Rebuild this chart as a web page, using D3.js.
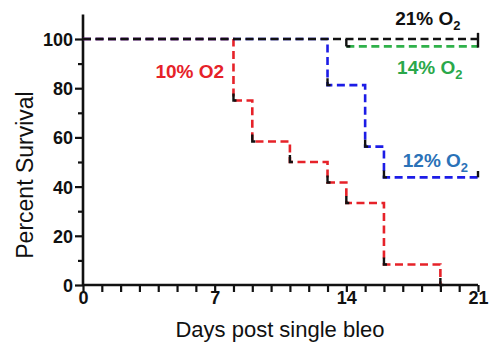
<!DOCTYPE html>
<html><head><meta charset="utf-8">
<script src="https://cdn.jsdelivr.net/npm/d3@7"></script>
<style>html,body{margin:0;padding:0;background:#fff;}svg{display:block;}</style>
</head><body><svg id="c" width="492" height="350"></svg>
<script>
// Data
const days21 = [0, 21];           const surv21 = [100, 100];
const days14 = [14, 21];          const surv14 = [97, 97];
const days12 = [0, 13, 15, 16, 21]; const surv12 = [100, 81.25, 56.25, 43.75, 43.75];
const days10 = [0, 8, 9, 11, 13, 14, 16, 19]; const surv10 = [100, 75, 58.33, 50, 41.67, 33.33, 8.33, 0];
const xTickLabels = [0, 7, 14, 21];
const yTickLabels = [0, 20, 40, 60, 80, 100];
const labelNames = ["10% O", "21% O", "14% O", "12% O"];
const labelSubs = ["2", "2", "2", "2"];
const labelDays = [7.5, 16.6, 16.7, 17.0];
const labelVals = [84, 105.7, 85.8, 48.1];

const colors = {c10: "#e62229", c12: "#1c1ce6", c14: "#2fb14a", c21: "#111"};
const labelColors = ["#e62229", "#111", "#2aa84a", "#2a72b8"];
const labelAnchors = ["end", "start", "start", "start"];
const labelSubMode = [false, true, true, true];

const svg = d3.select("#c");
const x = d3.scaleLinear().domain([0, 21]).range([83, 478]);
const y = d3.scaleLinear().domain([0, 110]).range([285, 14.4]);

const font = "'Liberation Sans', Arial, sans-serif";

// axes
const xAxis = d3.axisBottom(x).tickValues(d3.range(0, 22)).tickSize(7)
  .tickFormat(d => xTickLabels.includes(d) ? d : "");
const gx = svg.append("g").attr("transform", "translate(0,285)").call(xAxis);
gx.select(".domain").attr("stroke", "#111").attr("stroke-width", 2.6).attr("d", `M${x(0)},0H${x(21)}`);
gx.selectAll(".tick line").attr("stroke", "#111").attr("stroke-width", 2.2);
gx.selectAll(".tick text").attr("font-family", font).attr("font-weight", "bold").attr("font-size", 18)
  .attr("fill", "#111").attr("dy", "0.62em").attr("y", 8);

const yAxis = d3.axisLeft(y).tickValues(d3.range(0, 101, 10)).tickSize(8)
  .tickFormat(d => yTickLabels.includes(d) ? d : "");
const gy = svg.append("g").attr("transform", "translate(83,0)").call(yAxis);
gy.select(".domain").attr("stroke", "#111").attr("stroke-width", 2.6).attr("d", `M0,${y(0)}V${y(110)}`);
gy.selectAll(".tick line").attr("stroke", "#111").attr("stroke-width", 2.2)
  .attr("x2", d => yTickLabels.includes(d) ? -8 : -5);
gy.selectAll(".tick text").attr("font-family", font).attr("font-weight", "bold").attr("font-size", 18)
  .attr("fill", "#111").attr("x", -10).attr("dy", "0.36em");

// axis titles
svg.append("text").attr("x", 280).attr("y", 337).attr("text-anchor", "middle")
  .attr("font-family", font).attr("font-size", 22).attr("fill", "#111").text("Days post single bleo");
svg.append("text").attr("transform", "translate(33,175) rotate(-90)").attr("text-anchor", "middle")
  .attr("font-family", font).attr("font-size", 23).attr("fill", "#111").text("Percent Survival");

// step curves
const line = d3.line().x(d => x(d[0])).y(d => y(d[1])).curve(d3.curveStepAfter);
function curve(days, vals, color) {
  const pts = days.map((d, i) => [d, vals[i]]);
  svg.append("path").attr("d", line(pts)).attr("fill", "none").attr("stroke", color)
    .attr("stroke-width", 2.6).attr("stroke-dasharray", "8,4.5");
  // black corner marks at bottom of each drop
  for (let i = 1; i < pts.length; i++) {
    if (pts[i][1] < pts[i - 1][1]) {
      const px = x(pts[i][0]), py = y(pts[i][1]);
      svg.append("path").attr("d", `M${px},${py - 7}V${py}h3`).attr("fill", "none")
        .attr("stroke", "#111").attr("stroke-width", 2.4);
    }
  }
}
curve(days10, surv10, colors.c10);
curve(days12, surv12, colors.c12);
curve(days14, surv14, colors.c14);
curve(days21, surv21, colors.c21);

// censor / end ticks
const tick = (d, v1, v2) => svg.append("line").attr("x1", x(d)).attr("x2", x(d))
  .attr("y1", y(v1)).attr("y2", y(v2)).attr("stroke", "#111").attr("stroke-width", 2.4);
tick(21, surv21[1] + 2.5, surv14[1] - 0.5);
tick(days14[0], surv21[0], surv14[0]);
svg.append("line").attr("x1", x(days14[0])).attr("x2", x(days14[0]) + 4)
  .attr("y1", y(surv14[0])).attr("y2", y(surv14[0])).attr("stroke", "#111").attr("stroke-width", 2.4);
tick(21, surv12[4], surv12[4] + 2.6);

// labels
labelNames.forEach((n, i) => {
  const t = svg.append("text").attr("x", x(labelDays[i])).attr("y", y(labelVals[i]))
    .attr("text-anchor", labelAnchors[i]).attr("font-family", font).attr("font-weight", "bold")
    .attr("font-size", 19).attr("fill", labelColors[i]);
  t.append("tspan").text(n);
  if (labelSubMode[i]) t.append("tspan").attr("font-size", 13).attr("dy", 5).text(labelSubs[i]);
  else t.append("tspan").text(labelSubs[i]);
});
</script></body></html>
